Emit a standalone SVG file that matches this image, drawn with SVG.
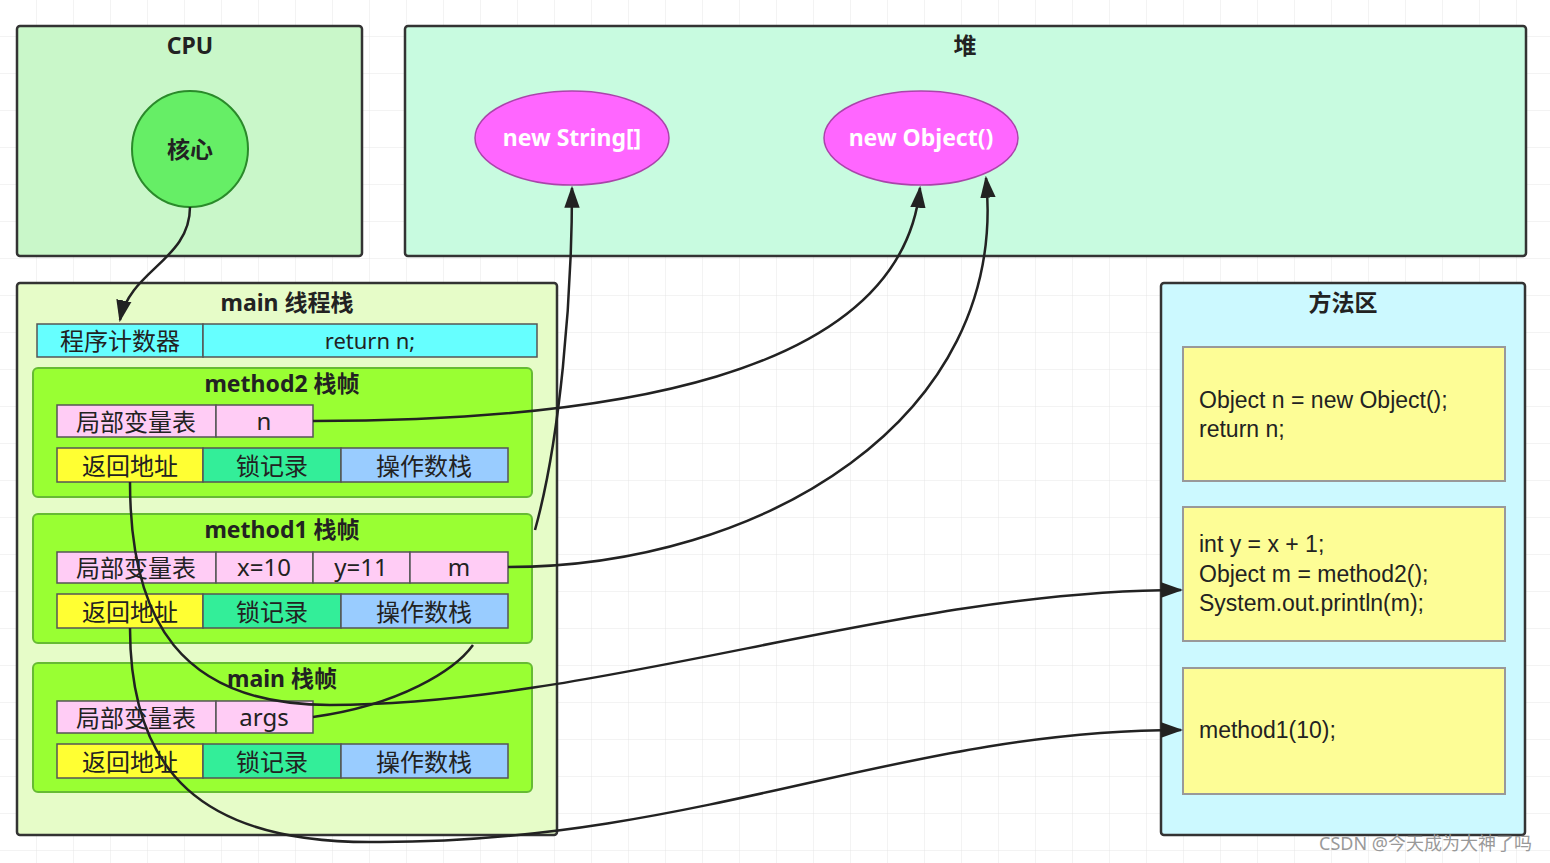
<svg xmlns="http://www.w3.org/2000/svg" width="1550" height="863" viewBox="0 0 1550 863">
<style>
text{font-family:"Noto Sans","Noto Sans CJK SC",sans-serif;fill:#222}
.t{font-weight:bold;font-size:23px;text-anchor:middle}
.c{font-size:24px;text-anchor:middle}
.code{font-size:23px;font-family:"Liberation Sans","Noto Sans CJK SC",sans-serif}
.box{stroke:#333;stroke-width:2.5}
.cell{stroke:#555;stroke-width:1.5}
.pink{fill:#ffccf5}.yel{fill:#ffff33}.grn{fill:#33ee99}.blu{fill:#99ccff}
.frame{fill:#99ff33;stroke:#66bb33;stroke-width:2}
.con{fill:none;stroke:#222;stroke-width:2.5}
</style>
<defs>
<pattern id="g" width="37" height="37" patternUnits="userSpaceOnUse"><path d="M37 0V37H0" fill="none" stroke="#e6e6e6" stroke-width="1"/></pattern>
<marker id="b" viewBox="0 0 10 10" refX="9" refY="5" markerWidth="22" markerHeight="22" orient="auto" markerUnits="userSpaceOnUse"><path d="M0 1.5L10 5L0 8.5z" fill="#222"/></marker>
</defs>
<rect width="1550" height="863" fill="#fff"/>
<rect width="1550" height="863" fill="url(#g)"/>
<g id="cpu">
<rect x="17" y="26" width="345" height="230" rx="3" fill="#c9f7c9" class="box"/>
<text x="190" y="54" class="t">CPU</text>
<circle cx="190" cy="149" r="58" fill="#66ee66" stroke="#2a8a2a" stroke-width="2"/>
<text x="190" y="158" class="t">核心</text>
</g>
<g id="heap">
<rect x="405" y="26" width="1121" height="230" rx="3" fill="#c8fbe0" class="box"/>
<text x="965" y="54" class="t">堆</text>
</g>
<g id="newString">
<ellipse cx="572" cy="138" rx="97" ry="47" fill="#ff66ff" stroke="#aa44aa" stroke-width="1.5"/>
<text x="572" y="146" class="t" style="fill:#fff">new String[]</text>
</g>
<g id="newObject">
<ellipse cx="921" cy="138" rx="97" ry="47" fill="#ff66ff" stroke="#aa44aa" stroke-width="1.5"/>
<text x="921" y="146" class="t" style="fill:#fff">new Object()</text>
</g>
<g id="mainStack">
<rect x="17" y="283" width="540" height="552" rx="3" fill="#e6fcc8" class="box"/>
<text x="287" y="311" class="t">main 线程栈</text>
<rect x="37" y="324" width="166" height="33" fill="#66ffff" class="cell"/>
<rect x="203" y="324" width="334" height="33" fill="#66ffff" class="cell"/>
<text x="120" y="350" class="c">程序计数器</text>
<text x="370" y="349" class="c" style="font-size:22px">return n;</text>
</g>
<g id="method2">
<rect x="33" y="368" width="499" height="129" rx="5" class="frame"/>
<text x="282" y="392" class="t">method2 栈帧</text>
<rect x="57" y="405" width="159" height="32" class="cell pink"/><rect x="216" y="405" width="97" height="32" class="cell pink"/>
<text x="136" y="431" class="c">局部变量表</text><text x="264" y="430" class="c">n</text>
<rect x="57" y="448" width="146" height="34" class="cell yel"/><rect x="203" y="448" width="138" height="34" class="cell grn"/><rect x="341" y="448" width="167" height="34" class="cell blu"/>
<text x="130" y="475" class="c">返回地址</text><text x="272" y="475" class="c">锁记录</text><text x="424" y="475" class="c">操作数栈</text>
</g>
<g id="method1">
<rect x="33" y="514" width="499" height="129" rx="5" class="frame"/>
<text x="282" y="538" class="t">method1 栈帧</text>
<rect x="57" y="552" width="159" height="31" class="cell pink"/><rect x="216" y="552" width="97" height="31" class="cell pink"/><rect x="313" y="552" width="97" height="31" class="cell pink"/><rect x="410" y="552" width="98" height="31" class="cell pink"/>
<text x="136" y="577" class="c">局部变量表</text><text x="264" y="576" class="c">x=10</text><text x="361" y="576" class="c">y=11</text><text x="459" y="576" class="c">m</text>
<rect x="57" y="594" width="146" height="34" class="cell yel"/><rect x="203" y="594" width="138" height="34" class="cell grn"/><rect x="341" y="594" width="167" height="34" class="cell blu"/>
<text x="130" y="621" class="c">返回地址</text><text x="272" y="621" class="c">锁记录</text><text x="424" y="621" class="c">操作数栈</text>
</g>
<g id="mainFrame">
<rect x="33" y="663" width="499" height="129" rx="5" class="frame"/>
<text x="282" y="687" class="t">main 栈帧</text>
<rect x="57" y="701" width="159" height="32" class="cell pink"/><rect x="216" y="701" width="97" height="32" class="cell pink"/>
<text x="136" y="727" class="c">局部变量表</text><text x="264" y="726" class="c">args</text>
<rect x="57" y="744" width="146" height="34" class="cell yel"/><rect x="203" y="744" width="138" height="34" class="cell grn"/><rect x="341" y="744" width="167" height="34" class="cell blu"/>
<text x="130" y="771" class="c">返回地址</text><text x="272" y="771" class="c">锁记录</text><text x="424" y="771" class="c">操作数栈</text>
</g>
<g id="methodArea">
<rect x="1161" y="283" width="364" height="552" rx="3" fill="#ccf9ff" class="box"/>
<text x="1343" y="311" class="t">方法区</text>
</g>
<g id="code2">
<rect x="1183" y="347" width="322" height="134" fill="#fdfd96" stroke="#999" stroke-width="2"/>
<text x="1199" y="408" class="code">Object n = new Object();</text>
<text x="1199" y="437" class="code">return n;</text>
</g>
<g id="code1">
<rect x="1183" y="507" width="322" height="134" fill="#fdfd96" stroke="#999" stroke-width="2"/>
<text x="1199" y="552" class="code">int y = x + 1;</text>
<text x="1199" y="582" class="code">Object m = method2();</text>
<text x="1199" y="611" class="code">System.out.println(m);</text>
</g>
<g id="codeMain">
<rect x="1183" y="668" width="322" height="126" fill="#fdfd96" stroke="#999" stroke-width="2"/>
<text x="1199" y="738" class="code">method1(10);</text>
</g>
<g id="connectors">
<path class="con" marker-end="url(#b)" d="M190 207C190 260 130 270 120 320"/>
<path class="con" marker-end="url(#b)" d="M313 421C600 421 900 380 920 188"/>
<path class="con" marker-end="url(#b)" d="M508 567C760 567 1010 420 986 178"/>
<path class="con" marker-end="url(#b)" d="M313 717C400 705 455 670 473 645M535 530C560 440 572 300 572 188"/>
<path class="con" marker-end="url(#b)" d="M130 482C130 620 180 705 330 705C600 705 900 590 1181 590"/>
<path class="con" marker-end="url(#b)" d="M130 628C130 770 200 845 380 842C700 842 900 730 1181 730"/>
</g>
<text x="1532" y="850" style="font-size:18px;fill:#999;text-anchor:end">CSDN @今天成为大神了吗</text>
</svg>
